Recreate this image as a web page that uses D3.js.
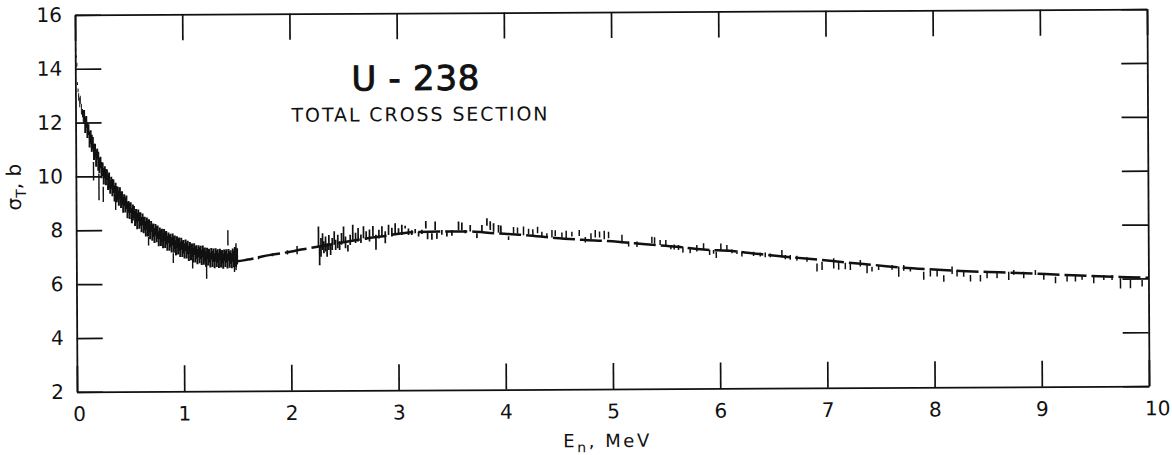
<!DOCTYPE html>
<html>
<head>
<meta charset="utf-8">
<script src="https://cdn.jsdelivr.net/npm/d3@7"></script>
<style>
  html, body { margin: 0; padding: 0; background: #fff; }
  svg { display: block; }
</style>
</head>
<body>
<script>
// ---- axis ticks ----
const xTicks = [0, 1, 2, 3, 4, 5, 6, 7, 8, 9, 10];
const yTicks = [2, 4, 6, 8, 10, 12, 14, 16];

// ---- lowest energies, along the left edge (MeV, barns) ----
const edgeE     = [0.005, 0.01, 0.015, 0.02, 0.025, 0.03, 0.04, 0.045, 0.055, 0.065, 0.072];
const edgeSigma = [14.7, 14.45, 14.15, 13.45, 13.2, 12.95, 12.75, 12.85, 12.5, 12.35, 12.25];
const edgeErr   = [0.05, 0.04, 0.07, 0.05, 0.07, 0.14, 0.18, 0.15, 0.2, 0.15, 0.22];

// ---- dense measurements 0.08 - 1.5 MeV ----
const bandE = [
  0.08, 0.09, 0.10, 0.11, 0.12, 0.13, 0.14, 0.15, 0.16, 0.17, 0.18, 0.19, 0.20, 0.21, 0.22, 0.23, 0.24, 0.25, 0.26, 0.27,
  0.28, 0.29, 0.30, 0.31, 0.32, 0.33, 0.34, 0.35, 0.36, 0.37, 0.38, 0.39, 0.40, 0.41, 0.42, 0.43, 0.44, 0.45, 0.46, 0.47,
  0.48, 0.49, 0.50, 0.51, 0.52, 0.53, 0.54, 0.55, 0.56, 0.57, 0.58, 0.59, 0.60, 0.61, 0.62, 0.63, 0.64, 0.65, 0.66, 0.67,
  0.68, 0.69, 0.70, 0.71, 0.72, 0.73, 0.74, 0.75, 0.76, 0.77, 0.78, 0.79, 0.80, 0.81, 0.82, 0.83, 0.84, 0.85, 0.86, 0.87,
  0.88, 0.89, 0.90, 0.91, 0.92, 0.93, 0.94, 0.95, 0.96, 0.97, 0.98, 0.99, 1.00, 1.01, 1.02, 1.03, 1.04, 1.05, 1.06, 1.07,
  1.08, 1.09, 1.10, 1.11, 1.12, 1.13, 1.14, 1.15, 1.16, 1.17, 1.18, 1.19, 1.20, 1.21, 1.22, 1.23, 1.24, 1.25, 1.26, 1.27,
  1.28, 1.29, 1.30, 1.31, 1.32, 1.33, 1.34, 1.35, 1.36, 1.37, 1.38, 1.39, 1.40, 1.41, 1.42, 1.43, 1.44, 1.45, 1.46, 1.47,
  1.48, 1.49, 1.50
];
const bandSigma = [
  12.22, 11.91, 12.02, 11.71, 11.74, 11.37, 11.46, 11.23, 11.24, 10.91, 10.96, 10.66, 10.83, 10.56, 10.40, 10.51, 10.23, 10.26, 10.00, 10.15,
  9.97, 10.05, 9.77, 9.84, 9.60, 9.76, 9.58, 9.63, 9.36, 9.56, 9.33, 9.36, 9.18, 9.37, 9.12, 9.19, 8.94, 9.11, 8.93, 9.03,
  8.74, 8.86, 8.71, 8.83, 8.53, 8.65, 8.67, 8.43, 8.53, 8.33, 8.54, 8.35, 8.41, 8.20, 8.39, 8.18, 8.24, 8.04, 8.24, 8.06,
  8.15, 7.93, 8.13, 7.90, 7.99, 7.79, 8.00, 7.84, 7.91, 7.67, 7.87, 7.70, 7.79, 7.60, 7.81, 7.63, 7.71, 7.50, 7.70, 7.52,
  7.60, 7.44, 7.64, 7.45, 7.54, 7.33, 7.54, 7.38, 7.46, 7.27, 7.48, 7.29, 7.37, 7.21, 7.42, 7.23, 7.34, 7.12, 7.32, 7.17,
  7.24, 7.06, 7.28, 7.08, 7.17, 7.00, 7.20, 7.05, 7.15, 6.97, 7.19, 7.00, 7.09, 6.90, 7.11, 6.97, 7.04, 6.87, 7.10, 6.91,
  7.05, 6.84, 7.06, 6.91, 7.02, 6.85, 7.07, 6.89, 6.99, 6.82, 7.04, 6.91, 7.02, 6.83, 7.06, 6.88, 6.98, 6.84, 7.07, 6.90,
  6.99, 6.86, 7.00
];
const bandErr = [
  0.25, 0.30, 0.22, 0.28, 0.20, 0.30, 0.25, 0.32, 0.22, 0.30, 0.25, 0.30, 0.20, 0.35, 0.28, 0.22, 0.30, 0.25, 0.30, 0.22,
  0.30, 0.20, 0.28, 0.30, 0.25, 0.22, 0.32, 0.25, 0.30, 0.20, 0.30, 0.25, 0.28, 0.22, 0.30, 0.25, 0.30, 0.22, 0.28, 0.25,
  0.30, 0.22, 0.30, 0.20, 0.28, 0.30, 0.22, 0.28, 0.25, 0.30, 0.22, 0.30, 0.25, 0.28, 0.22, 0.30, 0.25, 0.28, 0.22, 0.30,
  0.25, 0.28, 0.20, 0.30, 0.25, 0.28, 0.22, 0.30, 0.25, 0.28, 0.22, 0.30, 0.25, 0.28, 0.22, 0.30, 0.25, 0.28, 0.20, 0.30,
  0.25, 0.28, 0.22, 0.30, 0.25, 0.28, 0.22, 0.30, 0.25, 0.28, 0.22, 0.30, 0.25, 0.28, 0.22, 0.30, 0.25, 0.28, 0.22, 0.30,
  0.25, 0.28, 0.22, 0.30, 0.25, 0.28, 0.22, 0.30, 0.25, 0.28, 0.22, 0.30, 0.25, 0.28, 0.22, 0.30, 0.25, 0.28, 0.22, 0.30,
  0.25, 0.28, 0.25, 0.30, 0.25, 0.28, 0.22, 0.30, 0.25, 0.28, 0.22, 0.30, 0.25, 0.28, 0.22, 0.30, 0.25, 0.28, 0.22, 0.30,
  0.36, 0.25, 0.30
];

// ---- stray points with long error bars in the dense region ----
const strayE     = [0.165, 0.215, 0.255, 0.37, 0.675, 0.905, 1.085, 1.215, 1.415, 1.475, 1.49];
const straySigma = [10.19, 9.61, 9.33, 9.05, 7.58, 6.95, 6.74, 6.46, 7.69, 6.70, 6.99];
const strayErr   = [0.34, 0.5, 0.28, 0.3, 0.16, 0.18, 0.18, 0.28, 0.28, 0.28, 0.5];

// ---- sparse points 1.5 - 2.25 MeV ----
const gapE     = [1.70, 1.83, 1.97, 2.06];
const gapSigma = [6.95, 7.05, 7.14, 7.22];
const gapErr   = [0.06, 0.05, 0.08, 0.15];

// ---- measurements 2.25 - 4 MeV ----
const riseE = [
  2.26, 2.27, 2.283, 2.298, 2.31, 2.326, 2.34, 2.357, 2.373, 2.388, 2.407, 2.42, 2.44, 2.457, 2.475, 2.494, 2.512, 2.534, 2.556, 2.58,
  2.606, 2.63, 2.656, 2.68, 2.705, 2.736, 2.768, 2.796, 2.824, 2.852, 2.883, 2.914, 2.945, 2.976, 3.007, 3.038, 3.069, 3.1, 3.131, 3.163,
  3.194, 3.225, 3.262, 3.278, 3.318, 3.349, 3.365, 3.411, 3.458, 3.505, 3.567, 3.598, 3.629, 3.676, 3.738, 3.785, 3.832, 3.863, 3.894, 3.94,
  3.962
];
const riseSigma = [
  7.72, 7.0, 7.32, 7.53, 7.32, 7.44, 7.22, 7.5, 7.22, 7.44, 7.66, 7.41, 7.53, 7.38, 7.63, 7.81, 7.5, 7.28, 7.59, 7.87,
  7.66, 7.78, 7.63, 7.87, 7.75, 7.75, 7.91, 7.5, 7.8, 7.89, 7.68, 7.95, 7.87, 8.01, 7.89, 7.95, 8.05, 7.88, 7.85, 7.9,
  7.79, 7.87, 8.14, 7.74, 7.7, 8.1, 7.72, 7.85, 7.79, 7.83, 8.09, 8.07, 7.87, 8.0, 7.72, 8.0, 8.23, 8.09, 8.02, 7.97,
  7.95
];
const riseErr = [
  0.37, 0.35, 0.35, 0.31, 0.22, 0.28, 0.25, 0.28, 0.19, 0.22, 0.25, 0.19, 0.25, 0.16, 0.22, 0.28, 0.22, 0.12, 0.19, 0.28,
  0.19, 0.25, 0.16, 0.22, 0.16, 0.22, 0.19, 0.28, 0.16, 0.2, 0.22, 0.19, 0.16, 0.19, 0.12, 0.19, 0.05, 0.12, 0.09, 0.08,
  0.09, 0.08, 0.14, 0.14, 0.12, 0.16, 0.11, 0.09, 0.09, 0.11, 0.16, 0.14, 0.06, 0.12, 0.09, 0.12, 0.14, 0.16, 0.16, 0.14,
  0.14
];

// ---- measurements 4 - 10 MeV ----
const tailE = [
  4.033, 4.08, 4.117, 4.173, 4.22, 4.26, 4.304, 4.344, 4.391, 4.438, 4.469, 4.531, 4.571, 4.624, 4.693, 4.749, 4.802, 4.842, 4.882, 4.926,
  4.966, 5.091, 5.153, 5.231, 5.37, 5.395, 5.447, 5.50, 5.547, 5.578, 5.618, 5.659, 5.727, 5.789, 5.852, 5.908, 5.945, 5.97, 6.013, 6.069,
  6.116, 6.163, 6.209, 6.318, 6.38, 6.427, 6.474, 6.582, 6.614, 6.66, 6.722, 6.816, 6.909, 6.956, 7.065, 7.111, 7.173, 7.22, 7.313, 7.376,
  7.422, 7.484, 7.609, 7.671, 7.718, 7.78, 7.904, 7.966, 8.029, 8.091, 8.169, 8.215, 8.277, 8.34, 8.433, 8.495, 8.588, 8.697, 8.744, 8.837,
  8.946, 9.024, 9.133, 9.241, 9.319, 9.381, 9.49, 9.584, 9.661, 9.739, 9.832, 9.941
];
const tailSigma = [
  7.62, 7.92, 7.90, 7.89, 7.87, 7.84, 7.92, 7.74, 7.73, 7.78, 7.80, 7.73, 7.72, 7.76, 7.80, 7.55, 7.68, 7.77, 7.74, 7.72,
  7.72, 7.57, 7.38, 7.37, 7.53, 7.51, 7.43, 7.40, 7.26, 7.26, 7.24, 7.16, 7.12, 7.21, 7.27, 7.05, 7.07, 6.96, 7.26, 7.20,
  7.09, 7.06, 6.98, 6.99, 6.96, 6.95, 6.93, 6.99, 6.86, 6.85, 6.82, 6.77, 6.47, 6.53, 6.62, 6.53, 6.52, 6.52, 6.62, 6.40,
  6.40, 6.46, 6.46, 6.30, 6.44, 6.36, 6.14, 6.23, 6.23, 6.04, 6.34, 6.23, 6.22, 6.04, 6.04, 6.16, 6.16, 6.12, 6.25, 6.15,
  6.24, 6.06, 5.96, 6.02, 6.02, 6.05, 5.95, 6.04, 6.04, 5.82, 5.79, 5.82
];
const tailErr = [
  0.07, 0.12, 0.12, 0.16, 0.10, 0.11, 0.12, 0.11, 0.07, 0.14, 0.11, 0.09, 0.17, 0.09, 0.11, 0.10, 0.11, 0.14, 0.11, 0.16,
  0.12, 0.16, 0.09, 0.10, 0.12, 0.12, 0.09, 0.12, 0.08, 0.09, 0.09, 0.11, 0.09, 0.12, 0.12, 0.09, 0.07, 0.12, 0.12, 0.12,
  0.07, 0.07, 0.09, 0.08, 0.07, 0.09, 0.07, 0.14, 0.08, 0.09, 0.09, 0.08, 0.15, 0.15, 0.19, 0.15, 0.12, 0.15, 0.12, 0.15,
  0.09, 0.09, 0.09, 0.19, 0.11, 0.06, 0.15, 0.12, 0.12, 0.12, 0.14, 0.12, 0.12, 0.12, 0.12, 0.12, 0.12, 0.15, 0.09, 0.12,
  0.09, 0.09, 0.12, 0.12, 0.12, 0.09, 0.12, 0.09, 0.09, 0.19, 0.15, 0.12
];

// ---- evaluated curve (dashed) ----
const curveE = [1.45, 1.5, 1.6, 1.7, 1.8, 1.95, 2.1, 2.25, 2.45, 2.67, 2.9, 3.13, 3.4, 3.63, 3.9, 4.2, 4.47, 4.75, 5.05, 5.31,
                5.6, 5.85, 6.12, 6.38, 6.66, 6.92, 7.19, 7.45, 7.72, 8.0, 8.25, 8.51, 8.78, 9.04, 9.3, 9.53, 9.81, 10];
const curveSigma = [6.85, 6.82, 6.88, 6.96, 7.04, 7.13, 7.24, 7.34, 7.48, 7.62, 7.74, 7.86, 7.88, 7.88, 7.81, 7.73, 7.62, 7.54, 7.47, 7.37,
                    7.27, 7.16, 7.1, 6.98, 6.86, 6.76, 6.65, 6.55, 6.44, 6.37, 6.31, 6.27, 6.23, 6.18, 6.13, 6.09, 6.05, 6.02];

// ---- drawing ----
const W = 1172, H = 455;
const ink = "#111";
const font = "'DejaVu Sans', 'Liberation Sans', sans-serif";

const svg = d3.select("body").append("svg").attr("width", W).attr("height", H);
// the whole sheet sits at a very slight tilt
const sheet = svg.append("g").attr("transform", "rotate(-0.31 612 200)");

const x = d3.scaleLinear().domain([0, 10]).range([76, 1148]);
const y = d3.scaleLinear().domain([2, 16]).range([389, 12]);

function styleAxis(g) {
  g.attr("font-family", font).attr("font-size", 20);
  g.select(".domain").attr("stroke", ink).attr("stroke-width", 1.8);
  g.selectAll(".tick line").attr("stroke", ink).attr("stroke-width", 1.7);
  g.selectAll(".tick text").attr("fill", ink);
}

// bottom axis with labels, ticks pointing inward
sheet.append("g")
  .attr("transform", `translate(0,${y(2)})`)
  .call(d3.axisBottom(x).tickValues(xTicks).tickSize(-26).tickSizeOuter(0).tickPadding(15).tickFormat(d3.format("d")))
  .call(styleAxis)
  .call(g => g.selectAll(".tick text").attr("dx", d => d === 10 ? 8 : (d === 0 ? 2 : 0)));

// top axis, ticks only
sheet.append("g")
  .attr("transform", `translate(0,${y(16)})`)
  .call(d3.axisTop(x).tickValues(xTicks).tickSize(-26).tickSizeOuter(0).tickFormat(""))
  .call(styleAxis);

// left axis with labels
sheet.append("g")
  .attr("transform", `translate(${x(0)},0)`)
  .call(d3.axisLeft(y).tickValues(yTicks).tickSize(-26).tickSizeOuter(0).tickPadding(13).tickFormat(d3.format("d")))
  .call(styleAxis);

// right axis, ticks only
sheet.append("g")
  .attr("transform", `translate(${x(10)},0)`)
  .call(d3.axisRight(y).tickValues(yTicks).tickSize(-26).tickSizeOuter(0).tickFormat(""))
  .call(styleAxis);

// error bars
function errorBars(E, S, D, width) {
  const pts = E.map((e, i) => ({ e, s: S[i], d: D[i] }));
  sheet.append("g")
    .attr("stroke", ink)
    .attr("stroke-width", width)
    .selectAll("line")
    .data(pts)
    .join("line")
    .attr("x1", p => x(p.e))
    .attr("x2", p => x(p.e))
    .attr("y1", p => y(p.s - p.d))
    .attr("y2", p => y(p.s + p.d));
}

errorBars(edgeE, edgeSigma, edgeErr, 1.0);
errorBars(bandE, bandSigma, bandErr, 2.0);
errorBars(strayE, straySigma, strayErr, 1.4);
errorBars(gapE, gapSigma, gapErr, 1.5);
errorBars(riseE, riseSigma, riseErr, 1.7);
errorBars(tailE, tailSigma, tailErr, 1.5);

// dashed evaluated curve
const curvePts = curveE.map((e, i) => [e, curveSigma[i]]);
sheet.append("path")
  .datum(curvePts)
  .attr("fill", "none")
  .attr("stroke", ink)
  .attr("stroke-width", 2.5)
  .attr("stroke-dasharray", "22 5")
  .attr("d", d3.line().x(d => x(d[0])).y(d => y(d[1])).curve(d3.curveMonotoneX));

// title block
sheet.append("text")
  .attr("x", 352).attr("y", 89)
  .attr("textLength", 128).attr("lengthAdjust", "spacing")
  .attr("font-family", font).attr("font-size", 34)
  .attr("fill", ink).attr("stroke", ink).attr("stroke-width", 0.9)
  .text("U - 238");

sheet.append("text")
  .attr("x", 292).attr("y", 120)
  .attr("textLength", 256).attr("lengthAdjust", "spacing")
  .attr("font-family", font).attr("font-size", 19)
  .attr("fill", ink)
  .text("TOTAL  CROSS  SECTION");

// x axis title: E_n, MeV
const xTitle = sheet.append("text")
  .attr("x", 562).attr("y", 447)
  .attr("textLength", 86).attr("lengthAdjust", "spacing")
  .attr("font-family", font).attr("font-size", 18).attr("fill", ink);
xTitle.append("tspan").text("E");
xTitle.append("tspan").attr("dy", 5).attr("font-size", 14).text("n");
xTitle.append("tspan").attr("dy", -5).text(", MeV");

// y axis title: sigma_T, b
const yTitle = sheet.append("text")
  .attr("transform", "translate(21,184) rotate(-90)")
  .attr("text-anchor", "middle")
  .attr("font-family", font).attr("font-size", 20).attr("fill", ink);
yTitle.append("tspan").text("σ");
yTitle.append("tspan").attr("dy", 5).attr("font-size", 14).text("T");
yTitle.append("tspan").attr("dy", -5).text(", b");
</script>
</body>
</html>
